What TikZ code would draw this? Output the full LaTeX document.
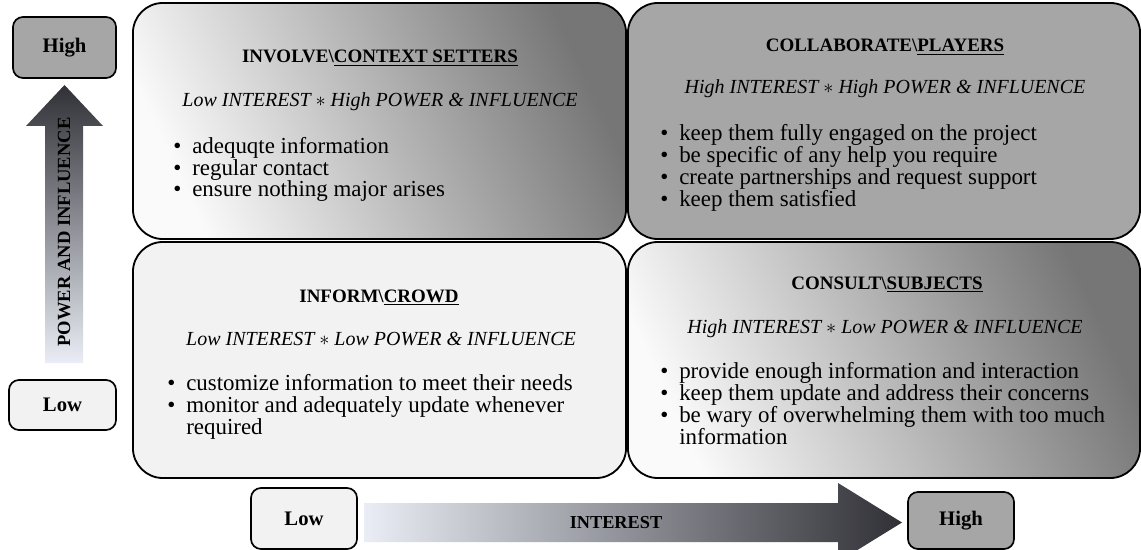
\documentclass[tikz,border=0pt]{standalone}
\usepackage{fontspec}
\setmainfont{Liberation Serif}

\definecolor{boxdark}{RGB}{166,166,166}
\definecolor{boxlight}{RGB}{242,242,242}
\definecolor{shadelight}{RGB}{250,250,250}
\definecolor{shadedark}{RGB}{118,118,118}
\definecolor{arrowdark}{RGB}{48,48,54}
\definecolor{arrowblue}{RGB}{196,211,236}
\definecolor{arrowpale}{RGB}{234,237,245}

\newcommand{\itm}{\makebox[13.5pt][l]{\textbullet}}
\newcommand{\cnt}{\hspace*{13.5pt}}

\begin{document}
\begin{tikzpicture}[x=0.025cm, y=-0.025cm,
	quad/.style={draw, line width=1.3pt, rounded corners=0.75cm, minimum height=5.9cm},
	grad/.style={shade, bottom color=shadelight, top color=shadedark, shading angle=-65},
	lbl/.style={draw, line width=1.2pt, rounded corners=0.25cm, font=\fontsize{14.7}{17}\selectfont\bfseries},
	head/.style={anchor=base, inner sep=0pt, font=\fontsize{13.5}{16}\selectfont\bfseries},
	sub/.style={anchor=base, inner sep=0pt, font=\fontsize{14.2}{17}\selectfont\itshape},
	list/.style={anchor=base west, inner sep=0pt, align=left, font=\fontsize{16.3}{15.6}\selectfont},
	axis/.style={font=\fontsize{13.2}{16}\selectfont\bfseries}]
	\useasboundingbox (0,0) rectangle (1141,550);
	\node[quad, grad, minimum width=12.325cm] (involve) at (379.5,121) {};
	\node[quad, fill=boxdark, minimum width=12.8cm] (collab) at (884,121) {};
	\node[quad, fill=boxlight, minimum width=12.325cm] (inform) at (379.5,360) {};
	\node[quad, grad, minimum width=12.8cm] (consult) at (884,360) {};

	\node[head] (involvehead) at (380,63) {INVOLVE\textbackslash\underline{CONTEXT SETTERS}};
	\node[sub] (involvesub) at (380,107) {Low INTEREST $\ast$ High POWER \& INFLUENCE};
	\node[list] (involvelist) at (173,197) {\itm adequqte information\\ \itm regular contact\\ \itm ensure nothing major arises};

	\node[head] (collabhead) at (885,52) {COLLABORATE\textbackslash\underline{PLAYERS}};
	\node[sub] (collabsub) at (885,94) {High INTEREST $\ast$ High POWER \& INFLUENCE};
	\node[list] (collablist) at (660,206) {\itm keep them fully engaged on the project\\ \itm be specific of any help you require\\ \itm create partnerships and request support\\ \itm keep them satisfied};

	\node[head] (informhead) at (379,302) {INFORM\textbackslash\underline{CROWD}};
	\node[sub] (informsub) at (381,345) {Low INTEREST $\ast$ Low POWER \& INFLUENCE};
	\node[list] (informlist) at (167,434) {\itm customize information to meet their needs\\ \itm monitor and adequately update whenever\\ \cnt required};

	\node[head] (consulthead) at (887,289) {CONSULT\textbackslash\underline{SUBJECTS}};
	\node[sub] (consultsub) at (885,333) {High INTEREST $\ast$ Low POWER \& INFLUENCE};
	\node[list] (consultlist) at (660,444) {\itm provide enough information and interaction\\ \itm keep them update and address their concerns\\ \itm be wary of overwhelming them with too much\\ \cnt information};

	\node[lbl, fill=boxdark, minimum width=2.575cm, minimum height=1.525cm] (powerhigh) at (64.5,47.5) {High};
	\node[lbl, fill=boxlight, minimum width=2.675cm, minimum height=1.25cm] (powerlow) at (62.5,405) {Low};
	\node[lbl, fill=boxlight, minimum width=2.65cm, minimum height=1.525cm] (interestlow) at (304,518.5) {Low};
	\node[lbl, fill=boxdark, minimum width=2.65cm, minimum height=1.425cm] (interesthigh) at (961,520.5) {High};

	\shade[top color=arrowdark, middle color=arrowblue, bottom color=arrowpale]
		(45,363) -- (45,126) -- (26,126) -- (64.5,85) -- (103,126) -- (83,126) -- (83,363) -- cycle;
	\node[axis, rotate=90] (power) at (64,232) {POWER AND INFLUENCE};
	\shade[left color=arrowpale, middle color=arrowblue, right color=arrowdark]
		(364,503) -- (838,503) -- (838,483) -- (902,522.5) -- (838,562) -- (838,542) -- (364,542) -- cycle;
	\node[axis, font=\fontsize{13}{16}\selectfont\bfseries] (interest) at (616,522.5) {INTEREST};
\end{tikzpicture}
\end{document}
